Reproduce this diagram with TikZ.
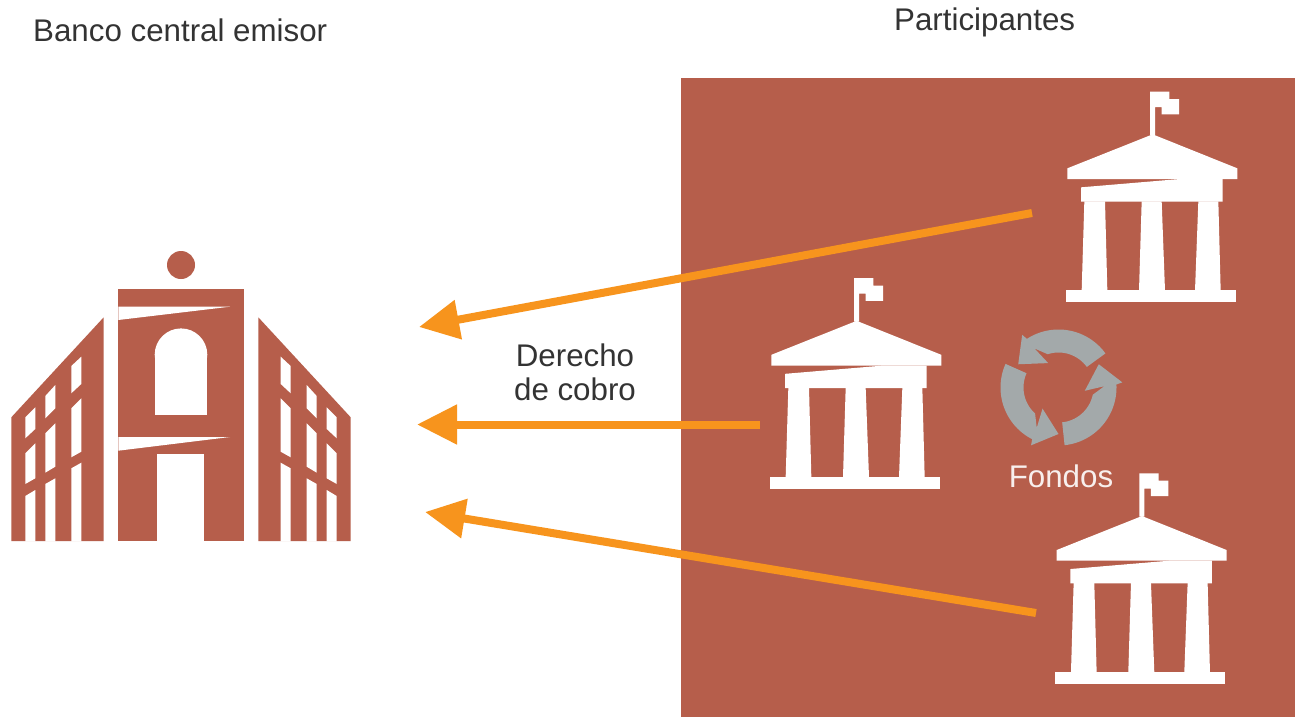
\documentclass[tikz,border=0pt]{standalone}
\usepackage{fontspec}
\setmainfont{Liberation Sans}
\usetikzlibrary{arrows.meta}
\definecolor{panel}{HTML}{B65E4B}
\definecolor{arrowc}{HTML}{F7941D}
\definecolor{recyc}{HTML}{A3A9AA}
\definecolor{txt}{HTML}{333333}
\colorlet{fondosc}{white!90!panel}
\begin{document}
\begin{tikzpicture}[x=1pt,y=-1pt,
  arr/.style={draw=arrowc, line width=8pt, -{Triangle[length=40pt,width=38pt]}},
  lbl/.style={text=txt, font=\fontsize{31.3}{34}\selectfont, inner sep=0pt},
  partbank/.pic={
    \begin{scope}[x=0.333333pt,y=-0.333333pt]
      \fill[white] (300,20) -- (358,20) -- (358,42) -- (387,42) -- (387,88) -- (335,88) -- (335,66) -- (315,66) -- (315,150) -- (300,150) -- cycle;
      \fill[white] (52,282) -- (52,250) -- (308,148) -- (562,250) -- (562,282) -- cycle;
      \fill[white] (93,350) -- (93,307) -- (390,282) -- (518,282) -- (518,350) -- cycle;
      \fill[white] (95,617) -- (103,349) -- (165,349) -- (172,617) -- cycle;
      \fill[white] (267,617) -- (275,349) -- (335,349) -- (345,617) -- cycle;
      \fill[white] (435,617) -- (445,349) -- (505,349) -- (512,617) -- cycle;
      \fill[white] (48,616) rectangle (558,652);
    \end{scope}
  }
]
\useasboundingbox (0,0) rectangle (1295,717);
\fill[white] (0,0) rectangle (1295,717);

% participants panel
\fill[panel] (681,78) rectangle (1295,717);

% central bank icon
\fill[panel] (181,265) circle[radius=14pt];
\fill[panel] (118.3,289.3) rectangle (244,541);
\fill[white] (118.3,306.7) -- (230,306.7) -- (118.3,320) -- cycle;
\fill[white] (118.3,437) -- (230,437) -- (118.3,450.7) -- cycle;
\fill[white] (154.7,354.7) rectangle (207.3,414.7);
\fill[white] (181,354.7) circle[radius=26.3pt];
\fill[white] (157.3,454.3) rectangle (204.3,541.5);
\foreach \mir in {0,1} {
  \begin{scope}[shift={(362*\mir,0)}, xscale={1-2*\mir}]
    \fill[panel] (11.3,417.3) -- (103.7,317.3) -- (103.7,541) -- (11.3,541) -- cycle;
    % column A
    \fill[white] (25.3,417.3) -- (35.3,407.3) -- (35.3,429) -- (25.3,438.3) -- cycle;
    \fill[white] (25.3,453.3) -- (35.3,443.3) -- (35.3,478.3) -- (25.3,484) -- cycle;
    \fill[white] (25.3,496) -- (35.3,490) -- (35.3,541.5) -- (25.3,541.5) -- cycle;
    % column B
    \fill[white] (45.3,396) -- (55.3,385) -- (55.3,408.3) -- (45.3,418.3) -- cycle;
    \fill[white] (45.3,433.3) -- (55.3,423.3) -- (55.3,466.7) -- (45.3,472.7) -- cycle;
    \fill[white] (45.3,484) -- (55.3,478.3) -- (55.3,541.5) -- (45.3,541.5) -- cycle;
    % column C
    \fill[white] (71.3,366) -- (81.3,356.7) -- (81.3,384) -- (71.3,393.3) -- cycle;
    \fill[white] (71.3,408.3) -- (81.3,398.3) -- (81.3,451.7) -- (71.3,457.3) -- cycle;
    \fill[white] (71.3,468.3) -- (81.3,462.7) -- (81.3,541.5) -- (71.3,541.5) -- cycle;
  \end{scope}
}

% participant banks
\pic at (1050,85) {partbank};
\pic at (754,271.5) {partbank};
\pic at (1039.3,466.7) {partbank};

% recycling arrows
\begin{scope}[shift={(1058.5,387.5)}, yscale=-1]
  \foreach \ang in {0,120,240} {
    \fill[recyc] plot[domain=36:123,samples=40] ({\x+\ang}:58)
      -- ({124.6+\ang}:64) -- ({150+\ang}:46.5) -- ({112.9+\ang}:26.5)
      -- ({121.6+\ang}:45.8) -- ({108+\ang}:35)
      -- plot[domain=108:36,samples=40] ({\x+\ang}:35) -- cycle;
  }
\end{scope}

% labels
\node[lbl, anchor=base west] (t1) at (33,42) {Banco central emisor};
\node[lbl, anchor=base west] (t2) at (894,31) {Participantes};
\node[lbl, anchor=base] (d1) at (575,366) {Derecho};
\node[lbl, anchor=base] (d2) at (575,400) {de cobro};
\node[lbl, anchor=base, text=fondosc] (f) at (1061,487) {Fondos};

% arrows
\coordinate (a1s) at (1032,213);
\coordinate (a1e) at (419,327);
\coordinate (a2s) at (760,424.5);
\coordinate (a2e) at (417,424.5);
\coordinate (a3s) at (1036,613);
\coordinate (a3e) at (425,512);
\draw[arr] (a1s) -- (a1e);
\draw[arr] (a2s) -- (a2e);
\draw[arr] (a3s) -- (a3e);
\end{tikzpicture}
\end{document}
